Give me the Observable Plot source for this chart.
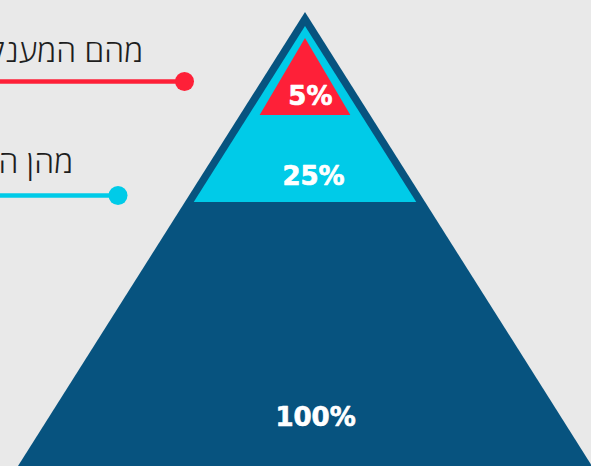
<!DOCTYPE html>
<html><head><meta charset="utf-8">
<script src="https://cdn.jsdelivr.net/npm/d3@7"></script>
<script src="https://cdn.jsdelivr.net/npm/@observablehq/plot@0.6"></script>
<style>html,body{margin:0;padding:0;background:#e9e9e9;overflow:hidden}</style>
</head><body><div id="chart"></div>
<script>
// ---- data ----
const levels = ["100%", "25%", "5%"];
const levelValues = [100, 25, 5];
const levelColors = ["#07537f", "#00cbe8", "#fe2038"];
const questions = ["מהם המענקים הקיימים", "מהן ההטבות הקיימות"];
const questionColors = ["#fe2038", "#00cbe8"];

// ---- layout (pyramid units: x = fraction of outer half-base, y = depth from apex 0 to 1) ----
const shapes = [
  {apex: 0, base: 1, half: 1},
  {apex: 0.0308, base: 0.4185, half: 0.3877},
  {apex: 0.0573, base: 0.2269, half: 0.158}
];
const labelPos = [{x: 0.035, y: 0.9097}, {x: 0.028, y: 0.379}, {x: 0.017, y: 0.2048}];
const questionPos = [
  {tx: -0.5655, ty: 0.110, dx: -0.4216, dy: 0.152},
  {tx: -0.8094, ty: 0.3546, dx: -0.6533, dy: 0.4031}
];

const rows = levels.map((label, i) => ({label, value: levelValues[i], color: levelColors[i], ...shapes[i], lx: labelPos[i].x, ly: labelPos[i].y}));
const qs = questions.map((q, i) => ({text: q, color: questionColors[i], ...questionPos[i]}));

const marks = rows.map(r => Plot.areaX(
  [{y: r.apex, x1: 0, x2: 0}, {y: r.base, x1: -r.half, x2: r.half}],
  {y: "y", x1: "x1", x2: "x2", fill: r.color}
));

const chart = Plot.plot({
  width: 591,
  height: 466,
  margin: 0,
  style: {background: "#e9e9e9"},
  x: {domain: [-1, 1], range: [18, 592], axis: null},
  y: {domain: [0, 1], range: [12, 466], axis: null},
  marks: [
    ...marks,
    Plot.text(rows, {x: "lx", y: "ly", text: "label", fill: "white", stroke: "white", strokeWidth: 0.7, fontSize: 26, fontWeight: "bold", fontFamily: "DejaVu Sans", lineAnchor: "bottom", textAnchor: "middle"}),
    Plot.link(qs, {x1: -1.2, x2: "dx", y1: "dy", y2: "dy", stroke: d => d.color, strokeWidth: 4.5}),
    Plot.dot(qs, {x: "dx", y: "dy", r: 9.5, fill: d => d.color, stroke: null}),
    Plot.text(qs, {x: "tx", y: "ty", text: "text", fill: "#1e1e1e", fontSize: 32, fontWeight: 300, fontFamily: "Open Sans, Noto Sans Hebrew, DejaVu Sans", lineAnchor: "bottom", textAnchor: "end"})
  ],
  color: {type: "identity"}
});
document.getElementById("chart").append(chart);
</script></body></html>
